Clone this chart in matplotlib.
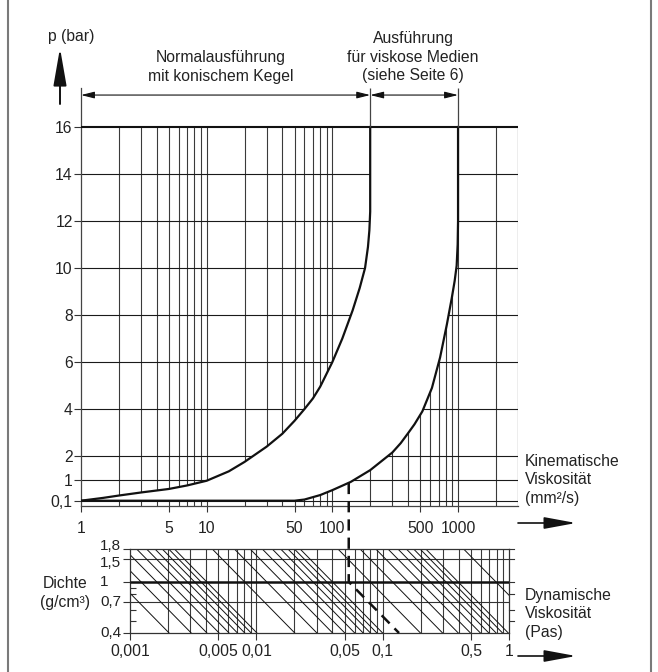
import numpy as np
import matplotlib.pyplot as plt
from matplotlib.lines import Line2D
from matplotlib.patches import FancyArrowPatch
from matplotlib.transforms import offset_copy

plt.rcParams['font.family'] = ['Liberation Sans', 'DejaVu Sans']
plt.rcParams['font.size'] = 11.3
plt.rcParams['text.color'] = '#222222'

W, H = 658, 672
TXT = '#222222'
GRID = '#3a3a3a'

# kinematic viscosity grid (mm²/s), upper chart
kin_grid = [2, 3, 4, 5, 6, 7, 8, 9, 10, 20, 30, 40, 50, 60, 70, 80, 90,
            100, 200, 300, 400, 500, 600, 700, 800, 900, 1000, 2000]
kin_ticks = [1, 5, 10, 50, 100, 500, 1000]
kin_labels = ['1', '5', '10', '50', '100', '500', '1000']
p_ticks = [0.1, 1, 2, 4, 6, 8, 10, 12, 14, 16]
p_labels = ['0,1', '1', '2', '4', '6', '8', '10', '12', '14', '16']

# boundary curves of the "Normalausführung" / viscous range
left_nu = [1, 1.5, 2, 3, 5, 7, 10, 15, 20, 30, 40, 50, 60, 70, 80, 100, 120, 145,
           165, 182, 192, 197, 200, 200]
left_p = [0.1, 0.22, 0.32, 0.45, 0.6, 0.75, 0.95, 1.35, 1.75, 2.4, 2.95, 3.5, 4.0,
          4.45, 4.95, 6.0, 7.0, 8.2, 9.15, 10.0, 10.9, 11.6, 12.4, 16]
right_nu = [1, 50, 60, 80, 100, 140, 200, 300, 350, 400, 450, 520, 620, 720, 815,
            890, 940, 975, 993, 1000, 1000]
right_p = [0.1, 0.1, 0.15, 0.34, 0.55, 0.9, 1.4, 2.15, 2.55, 2.97, 3.35, 3.9, 4.9,
           6.2, 7.6, 8.7, 9.45, 10.1, 11.0, 12.0, 16]

# lower chart: density (g/cm³) and dynamic viscosity (Pas)
dyn_grid = [0.002, 0.003, 0.004, 0.005, 0.006, 0.007, 0.008, 0.009,
            0.01, 0.02, 0.03, 0.04, 0.05, 0.06, 0.07, 0.08, 0.09,
            0.1, 0.2, 0.3, 0.4, 0.5, 0.6, 0.7, 0.8, 0.9]
dyn_ticks = [0.001, 0.005, 0.01, 0.05, 0.1, 0.5, 1]
dyn_labels = ['0,001', '0,005', '0,01', '0,05', '0,1', '0,5', '1']
rho_ticks = [0.4, 0.7, 1, 1.5, 1.8]
rho_labels = ['0,4', '0,7', '1', '1,5', '1,8']
rho_minor = [0.5, 0.6, 0.8, 0.9]

# example reading (dashed)
nu_example = 135
p_example = 0.86


def fp(x, y):
    """pixel position -> figure fraction"""
    return x / W, 1 - y / H


fig = plt.figure(figsize=(W / 100, H / 100), dpi=100)

# ---------------- upper chart ----------------
ax = fig.add_axes([81 / W, 1 - 506 / H, 437 / W, 418 / H])
ax.set_xscale('log')
ax.set_xlim(1, 3000)
ax.set_ylim(-0.125, 17.66)
for s in ['top', 'right']:
    ax.spines[s].set_visible(False)
for s in ['left', 'bottom']:
    ax.spines[s].set_linewidth(0.9)
    ax.spines[s].set_color('#444444')

ax.vlines(kin_grid, -0.125, 16, color=GRID, lw=0.8, zorder=1)
ax.vlines([3000], -0.125, 16, color='#777777', lw=0.9, zorder=1)
ax.hlines([0.1, 1, 2, 4, 6, 8, 10, 12, 14], 1, 3000, color='#1a1a1a', lw=0.8, zorder=1)

xs = left_nu + right_nu[::-1]
ys = left_p + right_p[::-1]
ax.fill(xs, ys, color='white', lw=0, zorder=2)
ax.plot(left_nu, left_p, color='#111111', lw=1.6, zorder=4, solid_joinstyle='round')
ax.plot(right_nu, right_p, color='#111111', lw=1.6, zorder=4, solid_joinstyle='round')
ax.hlines([16], 1, 3000, color='#111111', lw=1.5, zorder=4)
ax.vlines([200, 1000], 16, 17.66, color='#444444', lw=0.9, zorder=4)

ax.set_xticks(kin_ticks, labels=kin_labels)
ax.set_xticks([], minor=True)
ax.set_yticks(p_ticks, labels=p_labels)
ax.tick_params(axis='x', which='major', direction='out', length=4, width=0.8, pad=6.5,
               colors='#333333')
ax.tick_params(axis='y', which='major', direction='out', length=5, width=0.8, pad=1,
               colors='#333333')
for lab in ax.get_xticklabels() + ax.get_yticklabels():
    lab.set_color(TXT)

# range arrows above 16 bar
arr = dict(arrowstyle='<|-|>,head_length=0.8,head_width=0.2', color='#111111', lw=0.8,
           shrinkA=0, shrinkB=0, mutation_scale=10)
ax.annotate('', xy=(200, 17.36), xytext=(1, 17.36), arrowprops=arr, annotation_clip=False)
ax.annotate('', xy=(1000, 17.36), xytext=(200, 17.36), arrowprops=arr, annotation_clip=False)

# ---------------- lower chart ----------------
ax2 = fig.add_axes([130 / W, 1 - 633 / H, 379 / W, 84 / H])
ax2.set_xscale('log')
ax2.set_yscale('log')
ax2.set_xlim(0.001, 1)
ax2.set_ylim(0.4, 1.8)
for s in ax2.spines.values():
    s.set_linewidth(0.9)
    s.set_color('#333333')

ax2.vlines(dyn_grid, 0.4, 1.8, color=GRID, lw=0.8, zorder=1)
ax2.hlines([0.7, 1.5], 0.001, 1, color='#333333', lw=0.8, zorder=1)
ax2.hlines([1.0], 0.001, 1, color='#111111', lw=1.8, zorder=3)

# diagonal guide lines, one per kinematic grid value, aligned with upper chart
y_rho1 = ax2.transData.transform((0.01, 1.0))[1]
for nu in kin_grid:
    dx = ax.transData.transform((nu, 1.0))[0]
    eta0 = ax2.transData.inverted().transform((dx, y_rho1))[0]
    ax2.plot([eta0 / 1.8, eta0 / 0.4], [1.8, 0.4], color='#111111', lw=0.7, zorder=2)

ax2.set_xticks(dyn_ticks, labels=dyn_labels)
ax2.set_xticks([], minor=True)
ax2.set_yticks(rho_ticks, labels=[])
ax2.set_yticks(rho_minor, labels=[], minor=True)
ax2.tick_params(axis='x', which='major', direction='out', length=5, width=0.8, pad=3,
                colors='#333333')
ax2.tick_params(axis='y', which='major', direction='out', length=5, width=0.8,
                colors='#333333')
ax2.tick_params(axis='y', which='minor', direction='in', length=4, width=0.8,
                colors='#333333')
for lab in ax2.get_xticklabels():
    lab.set_color(TXT)

ytr = ax2.get_yaxis_transform()
label_shift = {1.8: 2.5, 1.5: -2.5}
for val, lab in zip(rho_ticks, rho_labels):
    tr = offset_copy(ytr, fig=fig, x=0, y=label_shift.get(val, 0), units='points')
    ax2.text(-0.079, val, lab, transform=tr, ha='left', va='center', color=TXT,
             clip_on=False, fontsize=11)
# right side ticks
tick_w = 5 / 379
for val in [1.0, 1.5, 1.8, 0.5, 0.6, 0.8]:
    ax2.plot([1, 1 + tick_w], [val, val], transform=ytr, color='#333333', lw=0.8,
             clip_on=False)

# dashed example reading, upper chart -> lower chart
p1 = ax.transData.transform((nu_example, p_example))
eta_d = ax2.transData.inverted().transform((p1[0], y_rho1))[0]
p2 = ax2.transData.transform((eta_d, 1.0))
p3 = ax2.transData.transform((eta_d / 0.4, 0.4))
pts = fig.transFigure.inverted().transform(np.array([p1, p2, p3]))
fig.add_artist(Line2D(pts[:, 0], pts[:, 1], transform=fig.transFigure, color='#111111',
                      lw=1.8, dashes=(4.5, 2.8), zorder=10))

# ---------------- annotations ----------------
fig.text(*fp(71, 37), 'p (bar)', ha='center', va='center', color=TXT)
fig.text(*fp(221, 67), 'Normalausführung\nmit konischem Kegel', ha='center', va='center',
         linespacing=1.28, color=TXT)
fig.text(*fp(413, 57), 'Ausführung\nfür viskose Medien\n(siehe Seite 6)', ha='center',
         va='center', linespacing=1.28, color=TXT)
fig.text(*fp(525, 480), 'Kinematische\nViskosität\n(mm²/s)', ha='left', va='center',
         linespacing=1.28, color=TXT)
fig.text(*fp(525, 614), 'Dynamische\nViskosität\n(Pas)', ha='left', va='center',
         linespacing=1.28, color=TXT)
fig.text(*fp(65, 593), 'Dichte\n(g/cm³)', ha='center', va='center', linespacing=1.3,
         color=TXT)

# arrows
fig.add_artist(FancyArrowPatch(fp(60, 104), fp(60, 48), transform=fig.transFigure,
                               arrowstyle='-|>,head_length=2.3,head_width=0.4',
                               mutation_scale=10, color='#111111', lw=1.4,
                               shrinkA=0, shrinkB=0))
for yy in [523, 656]:
    fig.add_artist(FancyArrowPatch(fp(518, yy), fp(576, yy), transform=fig.transFigure,
                                   arrowstyle='-|>,head_length=1.95,head_width=0.36',
                                   mutation_scale=10, color='#111111', lw=1.2,
                                   shrinkA=0, shrinkB=0))

# frame
for xx in [8, 651]:
    fig.add_artist(Line2D([xx / W, xx / W], [0, 1], transform=fig.transFigure,
                          color='#7a7a7a', lw=1.5))

fig.savefig('out.png', dpi=100)
